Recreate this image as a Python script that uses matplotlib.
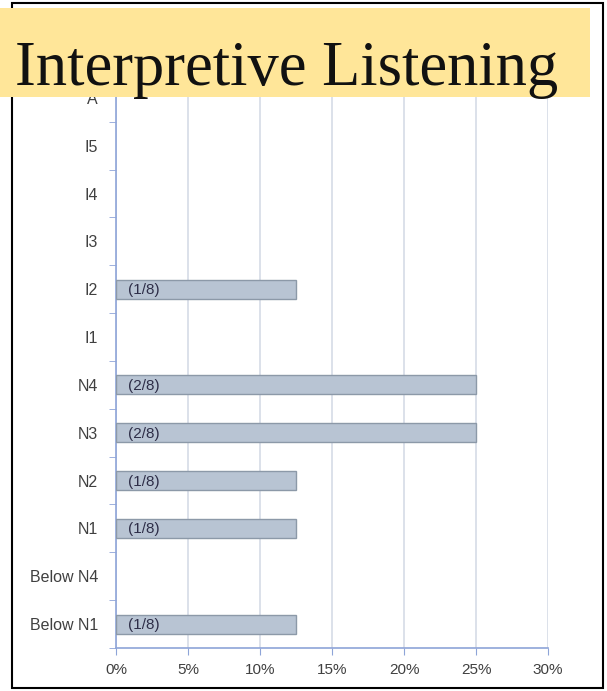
import matplotlib
matplotlib.use("Agg")
import matplotlib.pyplot as plt
from matplotlib.patches import Rectangle
import numpy as np

categories = ["Below N1", "Below N4", "N1", "N2", "N3", "N4", "I1", "I2", "I3", "I4", "I5", "A"]
values = [12.5, 0, 12.5, 12.5, 25, 25, 0, 12.5, 0, 0, 0, 0]
labels = ["(1/8)", "", "(1/8)", "(1/8)", "(2/8)", "(2/8)", "", "(1/8)", "", "", "", ""]
xticks = [0, 5, 10, 15, 20, 25, 30]
title = "Interpretive Listening"

W, H = 607, 691
fig = plt.figure(figsize=(W / 100, H / 100), dpi=100)
fig.patch.set_facecolor("white")

# outer frame
fig.add_artist(Rectangle((12 / W, 1 - 688 / H), (603 - 12) / W, (688 - 3) / H,
                         transform=fig.transFigure, fill=False, edgecolor="black", lw=1.5, zorder=0))

left, right = 116 / W, 548 / W
bottom, top = 1 - 648 / H, 1 - 74 / H
ax = fig.add_axes([left, bottom, right - left, top - bottom])
y = np.arange(len(categories))
lws = [1.0 if v > 0 else 0 for v in values]
ax.barh(y, values, height=0.4, color="#B8C4D3", edgecolor="#8C99A8", linewidth=lws, zorder=3)
for yi, v, lab in zip(y, values, labels):
    if lab:
        ax.text(0.85, yi - 0.02, lab, va="center", ha="left", fontsize=11, color="#2E2E48",
                family="Liberation Sans", zorder=4)

ax.set_xlim(0, 30)
ax.set_ylim(-0.5, len(categories) - 0.5)
ax.set_xticks(xticks)
ax.set_xticklabels([f"{t}%" for t in xticks], fontsize=11, color="#404040", family="Liberation Sans")
ax.set_yticks(y)
ax.set_yticklabels(categories, fontsize=11.5, color="#404040", family="Liberation Sans")
ax.set_yticks(np.arange(-0.5, len(categories)), minor=True)
ax.tick_params(axis="y", which="major", length=0, pad=13)
ax.tick_params(axis="y", which="minor", length=5, color="#8EA4D8", direction="out")
ax.tick_params(axis="x", which="major", length=5, color="#8EA4D8", direction="out", pad=6)
ax.grid(axis="x", color="#D5DCE6", lw=1.2, zorder=0)
for s in ["top", "right"]:
    ax.spines[s].set_visible(False)
ax.spines["left"].set_color("#8EA4D8")
ax.spines["bottom"].set_color("#8EA4D8")
ax.spines["left"].set_linewidth(1.2)
ax.spines["bottom"].set_linewidth(1.2)
ax.set_facecolor("white")

# banner
fig.add_artist(Rectangle((0, 1 - 97 / H), 590 / W, (97 - 8) / H, transform=fig.transFigure,
                         facecolor="#FFE699", edgecolor="none", zorder=10))
fig.text(15 / W, 1 - 85 / H, title, fontsize=45, family="Liberation Serif", color="#111111",
         va="baseline", ha="left", zorder=11)

fig.savefig("out.png", dpi=100)
